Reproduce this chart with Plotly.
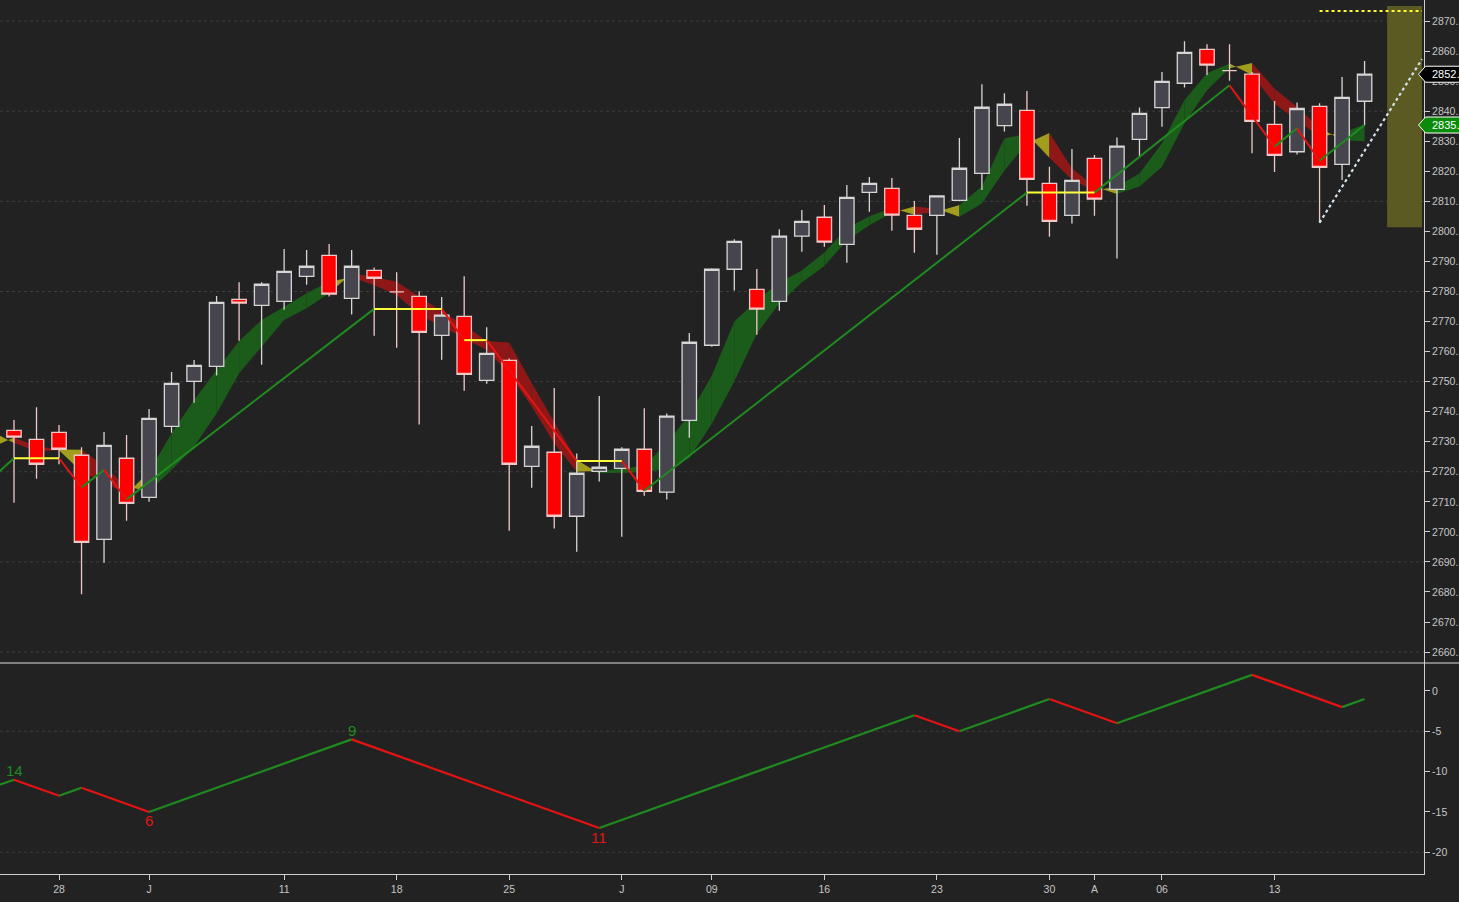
import plotly.graph_objects as go

# ---------------- data ----------------
bars = list(range(61))
opens = [2733.8, 2730.8, 2733.1, 2725.5, 2697.5, 2724.5, 2711.5, 2735.1, 2750.1, 2755.1,
         2777.4, 2775.4, 2776.7, 2785.0, 2792.0, 2777.7, 2787.0, 2779.9, 2778.4, 2765.4,
         2771.7, 2750.4, 2757.1, 2721.8, 2726.5, 2705.2, 2720.1, 2721.1, 2727.5, 2713.2,
         2737.1, 2762.1, 2787.4, 2780.7, 2776.7, 2798.4, 2804.7, 2795.7, 2813.0, 2814.3,
         2805.3, 2805.3, 2810.3, 2819.3, 2835.2, 2840.3, 2816.0, 2805.3, 2824.3, 2814.0,
         2830.6, 2841.2, 2849.3, 2860.6, 2853.5, 2852.3, 2835.6, 2826.5, 2841.6, 2822.3,
         2843.3]
highs = [2737.2, 2741.5, 2735.6, 2728.2, 2733.2, 2732.2, 2740.9, 2753.2, 2757.2, 2778.5,
         2783.1, 2783.1, 2794.1, 2793.8, 2795.8, 2793.8, 2788.0, 2786.4, 2780.1, 2778.2,
         2785.1, 2768.1, 2757.7, 2735.2, 2747.9, 2726.1, 2745.2, 2728.2, 2741.1, 2739.4,
         2766.2, 2787.7, 2797.4, 2787.5, 2800.7, 2807.1, 2808.8, 2815.4, 2818.1, 2817.8,
         2810.1, 2812.0, 2831.1, 2849.0, 2846.0, 2846.7, 2821.5, 2827.4, 2825.4, 2831.2,
         2841.2, 2853.0, 2863.3, 2862.3, 2862.3, 2853.0, 2843.4, 2842.9, 2842.6, 2851.4,
         2856.7]
lows = [2709.7, 2717.7, 2722.5, 2679.2, 2689.7, 2703.7, 2710.0, 2733.0, 2743.0, 2752.0,
        2763.6, 2755.6, 2773.9, 2782.2, 2778.3, 2772.3, 2765.3, 2761.3, 2735.7, 2757.3,
        2747.0, 2749.3, 2700.4, 2714.7, 2701.1, 2693.4, 2716.8, 2698.4, 2712.0, 2710.8,
        2731.3, 2761.6, 2780.3, 2765.6, 2773.6, 2793.2, 2794.9, 2789.6, 2806.5, 2800.2,
        2792.9, 2792.2, 2810.0, 2813.8, 2833.2, 2808.5, 2798.2, 2802.6, 2805.2, 2791.0,
        2825.1, 2834.8, 2847.9, 2852.0, 2850.1, 2826.0, 2819.8, 2825.6, 2802.9, 2817.1,
        2835.3]
closes = [2731.5, 2722.5, 2727.5, 2696.5, 2728.8, 2709.5, 2737.8, 2749.4, 2755.4, 2776.4,
          2776.1, 2782.4, 2786.7, 2788.4, 2779.1, 2788.4, 2784.4, 2779.9, 2766.4, 2772.1,
          2752.4, 2759.4, 2722.5, 2728.5, 2705.2, 2719.5, 2721.5, 2727.5, 2713.5, 2738.5,
          2763.1, 2787.4, 2796.7, 2774.1, 2798.4, 2803.3, 2796.4, 2811.3, 2816.0, 2805.4,
          2800.7, 2811.8, 2821.0, 2841.3, 2842.3, 2817.3, 2803.3, 2817.0, 2810.7, 2828.4,
          2839.3, 2849.9, 2859.6, 2855.3, 2853.5, 2836.6, 2825.3, 2840.9, 2821.3, 2844.6,
          2852.3]

tick_pos = [2, 6, 12, 17, 22, 27, 31, 36, 41, 46, 48, 51, 56]
tick_txt = ['28', 'J', '11', '18', '25', 'J', '09', '16', '23', '30', 'A', '06', '13']

price_ticks = list(range(2660, 2871, 10))
osc_ticks = [0, -5, -10, -15, -20]

# swing (zig-zag) line on price panel
zz_x = [-1, 0, 2, 3, 4, 5, 16, 19, 20, 21, 25, 27, 28, 45, 48, 54, 56, 57, 58, 60]
zz_y = [2717.7, 2724.5, 2724.5, 2714.8, 2720.6, 2710.8, 2774.2, 2774.2, 2763.8, 2763.8,
        2723.6, 2723.6, 2713.7, 2812.9, 2812.9, 2848.6, 2828.2, 2834.3, 2823.5, 2835.4]

# ribbon between a fast and a slow average (bars -1 .. 60)
band_x = list(range(-1, 61))
band_fast = [2733.5, 2729.6, 2726.8, 2727.2, 2720.0, 2716.5, 2712.5, 2720.0, 2732.8, 2743.9,
             2753.9, 2763.5, 2770.5, 2774.9, 2779.4, 2783.2, 2784.7, 2782.1, 2778.8, 2772.2,
             2768.4, 2764.4, 2760.5, 2752.5, 2741.7, 2729.5, 2720.0, 2720.3, 2721.0, 2722.0,
             2729.5, 2739.0, 2752.0, 2770.0, 2777.0, 2783.0, 2787.0, 2793.0, 2801.0, 2805.0,
             2807.8, 2805.5, 2806.5, 2808.8, 2814.9, 2831.0, 2832.4, 2824.5, 2817.2, 2813.5,
             2814.9, 2819.3, 2829.3, 2843.7, 2852.6, 2855.9, 2852.0, 2842.5, 2837.0, 2831.5,
             2832.8, 2835.5]
band_slow = [2728.0, 2731.4, 2728.5, 2727.4, 2727.3, 2722.0, 2715.0, 2713.5, 2720.6, 2728.3,
             2739.4, 2752.8, 2761.6, 2770.5, 2774.4, 2779.4, 2786.0, 2784.9, 2783.2, 2778.3,
             2773.4, 2768.8, 2763.5, 2763.0, 2749.5, 2736.6, 2723.9, 2719.5, 2719.7, 2719.8,
             2721.0, 2724.5, 2736.0, 2750.0, 2766.0, 2776.0, 2783.0, 2788.5, 2797.0, 2802.0,
             2806.2, 2808.3, 2807.5, 2804.9, 2809.3, 2820.3, 2829.3, 2832.7, 2821.0, 2814.9,
             2812.4, 2814.9, 2821.5, 2836.0, 2847.0, 2854.3, 2856.0, 2847.5, 2841.5, 2834.5,
             2830.3, 2830.0]
# state of each segment between consecutive band points: g=up, r=down, y=transition
band_state = "yrryrryggggggggyrrrrrrrrrrygggggggggggggyrygggyrrygggggyrrryg"

# lower panel oscillator
osc_x = [-1, 0, 2, 3, 6, 15, 26, 40, 42, 46, 49, 55, 59, 60]
osc_y = [-12, -11, -13, -12, -15, -6, -17, -3, -5, -1, -4, 2, -2, -1]
osc_lbl_x = [0, 6, 15, 26]
osc_lbl_txt = ['14', '6', '9', '11']

# projection markers
proj_x = [58, 62.55]
proj_y = [2802.9, 2857.3]
target_x = [58, 62.55]
target_y = [2873.3, 2873.3]
zone_x = [61.0, 62.55]
zone_y = [2801.4, 2875.0]
last_close = 2852.3
last_swing = 2835.4

# ---------------- styling ----------------
BG = '#222222'
AX = '#cfcfcf'
TXT = '#c6c6c6'
FONT = "Liberation Sans Narrow, Arial Narrow, Liberation Sans, Arial, sans-serif"
UPL = '#1f8a1f'
DNL = '#e41414'
YEL = '#ffff3a'
BAND = {'g': '#1b5c1b', 'r': '#8e1818', 'y': '#a39d1e'}

X_RANGE = [-0.622, 62.64]
Y_RANGE = [2656.36, 2877.0]
Y2_RANGE = [-22.70, 3.47]
SPLIT = 211 / 874

fig = go.Figure()

# candles
fig.add_trace(go.Candlestick(
    x=bars, open=opens, high=highs, low=lows, close=closes,
    increasing=dict(fillcolor='#46454e', line=dict(color='#d6d6d6', width=1.3)),
    decreasing=dict(fillcolor='#ff0000', line=dict(color='#f0c8c8', width=1.3)),
    whiskerwidth=0, xaxis='x', yaxis='y', hoverinfo='skip', showlegend=False))


def split_segments(xs, ys):
    segs = {'up': ([], []), 'dn': ([], []), 'flat': ([], [])}
    for i in range(len(xs) - 1):
        d = ys[i + 1] - ys[i]
        k = 'up' if d > 0 else ('dn' if d < 0 else 'flat')
        segs[k][0].extend([xs[i], xs[i + 1], None])
        segs[k][1].extend([ys[i], ys[i + 1], None])
    return segs


zz = split_segments(zz_x, zz_y)
for k, col in (('up', UPL), ('dn', DNL), ('flat', YEL)):
    fig.add_trace(go.Scatter(x=zz[k][0], y=zz[k][1], mode='lines',
                             line=dict(color=col, width=2), xaxis='x', yaxis='y',
                             hoverinfo='skip', showlegend=False))

# projection lines
fig.add_trace(go.Scatter(x=proj_x, y=proj_y, mode='lines',
                         line=dict(color='#d4e2ea', width=2.2, dash='dot'),
                         xaxis='x', yaxis='y', hoverinfo='skip', showlegend=False))
fig.add_trace(go.Scatter(x=target_x, y=target_y, mode='lines',
                         line=dict(color='#ffff30', width=2, dash='dot'),
                         xaxis='x', yaxis='y', hoverinfo='skip', showlegend=False))

# lower oscillator
osc = split_segments(osc_x, osc_y)
for k, col in (('up', UPL), ('dn', DNL)):
    fig.add_trace(go.Scatter(x=osc[k][0], y=osc[k][1], mode='lines',
                             line=dict(color=col, width=2.2), xaxis='x2', yaxis='y2',
                             hoverinfo='skip', showlegend=False))

shapes = []
# grid lines
for v in range(2660, 2871, 30):
    shapes.append(dict(type='line', xref='paper', x0=0, x1=1, yref='y', y0=v, y1=v,
                       layer='below', line=dict(color='#3e3e3e', width=1, dash='dot')))
for v in (-5, -20):
    shapes.append(dict(type='line', xref='paper', x0=0, x1=1, yref='y2', y0=v, y1=v,
                       layer='below', line=dict(color='#3e3e3e', width=1, dash='dot')))

# ribbon polygons
for i in range(len(band_x) - 1):
    x0, x1 = band_x[i], band_x[i + 1]
    path = (f"M {x0},{band_fast[i]} L {x1},{band_fast[i + 1]} "
            f"L {x1},{band_slow[i + 1]} L {x0},{band_slow[i]} Z")
    shapes.append(dict(type='path', xref='x', yref='y', path=path, layer='below',
                       fillcolor=BAND[band_state[i]], line=dict(width=0)))

# target zone
shapes.append(dict(type='rect', xref='x', yref='y', x0=zone_x[0], x1=zone_x[1],
                   y0=zone_y[0], y1=zone_y[1], layer='below',
                   fillcolor='#5b5a22', line=dict(width=0)))

# panel separator
shapes.append(dict(type='line', xref='paper', x0=0, x1=1.03, yref='paper', y0=SPLIT, y1=SPLIT,
                   line=dict(color='#dcdcdc', width=1.2)))


def to_paper(v):
    return SPLIT + (v - Y_RANGE[0]) / (Y_RANGE[1] - Y_RANGE[0]) * (1 - SPLIT)


PLOT_W = 1424.0
half_h = 8.0 / 874
annots = []
for val, fill in ((last_close, '#000000'), (last_swing, '#0a8c0a')):
    py = to_paper(val)
    xa, xb, xc = 1418.5 / PLOT_W, 1425.5 / PLOT_W, 1470 / PLOT_W
    path = (f"M {xa},{py} L {xb},{py + half_h} L {xc},{py + half_h} "
            f"L {xc},{py - half_h} L {xb},{py - half_h} Z")
    shapes.append(dict(type='path', xref='paper', yref='paper', path=path,
                       fillcolor=fill, line=dict(color='#ffffff', width=1)))
    annots.append(dict(xref='paper', yref='y', x=1430 / PLOT_W, y=val, text=f"{val:.0f}.",
                       showarrow=False, xanchor='left', yanchor='middle',
                       font=dict(family=FONT, size=11, color='#ffffff')))

# oscillator pivot counts
for xv, t in zip(osc_lbl_x, osc_lbl_txt):
    j = osc_x.index(xv)
    above = osc_y[j] > osc_y[j - 1]
    annots.append(dict(xref='x2', yref='y2', x=xv, y=osc_y[j], text=t, showarrow=False,
                       xanchor='center', yanchor='middle', yshift=9 if above else -9,
                       font=dict(family=FONT, size=15, color=UPL if above else DNL)))

tickfont = dict(family=FONT, size=10.5, color=TXT)
fig.update_layout(
    width=1459, height=902,
    margin=dict(l=0, r=35, t=0, b=28, autoexpand=False),
    paper_bgcolor=BG, plot_bgcolor=BG,
    showlegend=False, hovermode=False,
    boxgap=0.36, boxgroupgap=0,
    shapes=shapes, annotations=annots,
    xaxis=dict(domain=[0, 1], anchor='y', range=X_RANGE, showticklabels=False,
               showgrid=False, zeroline=False, showline=False, ticks='', automargin=False,
               rangeslider=dict(visible=False)),
    yaxis=dict(domain=[SPLIT, 1], anchor='x', side='right', range=Y_RANGE,
               tickvals=price_ticks, ticktext=[f"{v}." for v in price_ticks],
               ticks='outside', ticklen=5, tickcolor=AX, showline=True, linecolor=AX,
               linewidth=1, showgrid=False, zeroline=False, tickfont=tickfont,
               automargin=False),
    xaxis2=dict(domain=[0, 1], anchor='y2', matches='x', range=X_RANGE,
                tickvals=tick_pos, ticktext=tick_txt, ticks='outside', ticklen=5,
                tickcolor=AX, showline=True, linecolor=AX, linewidth=1,
                showgrid=False, zeroline=False, tickfont=tickfont, automargin=False),
    yaxis2=dict(domain=[0, SPLIT], anchor='x2', side='right', range=Y2_RANGE,
                tickvals=osc_ticks, ticktext=[str(v) for v in osc_ticks],
                ticks='outside', ticklen=5, tickcolor=AX, showline=True, linecolor=AX,
                linewidth=1, showgrid=False, zeroline=False, tickfont=tickfont,
                automargin=False),
)

fig.write_html("out.html", include_plotlyjs=True,
               config={'displayModeBar': False, 'responsive': False},
               post_script="document.body.style.margin='0px';document.body.style.background='#222222';")
